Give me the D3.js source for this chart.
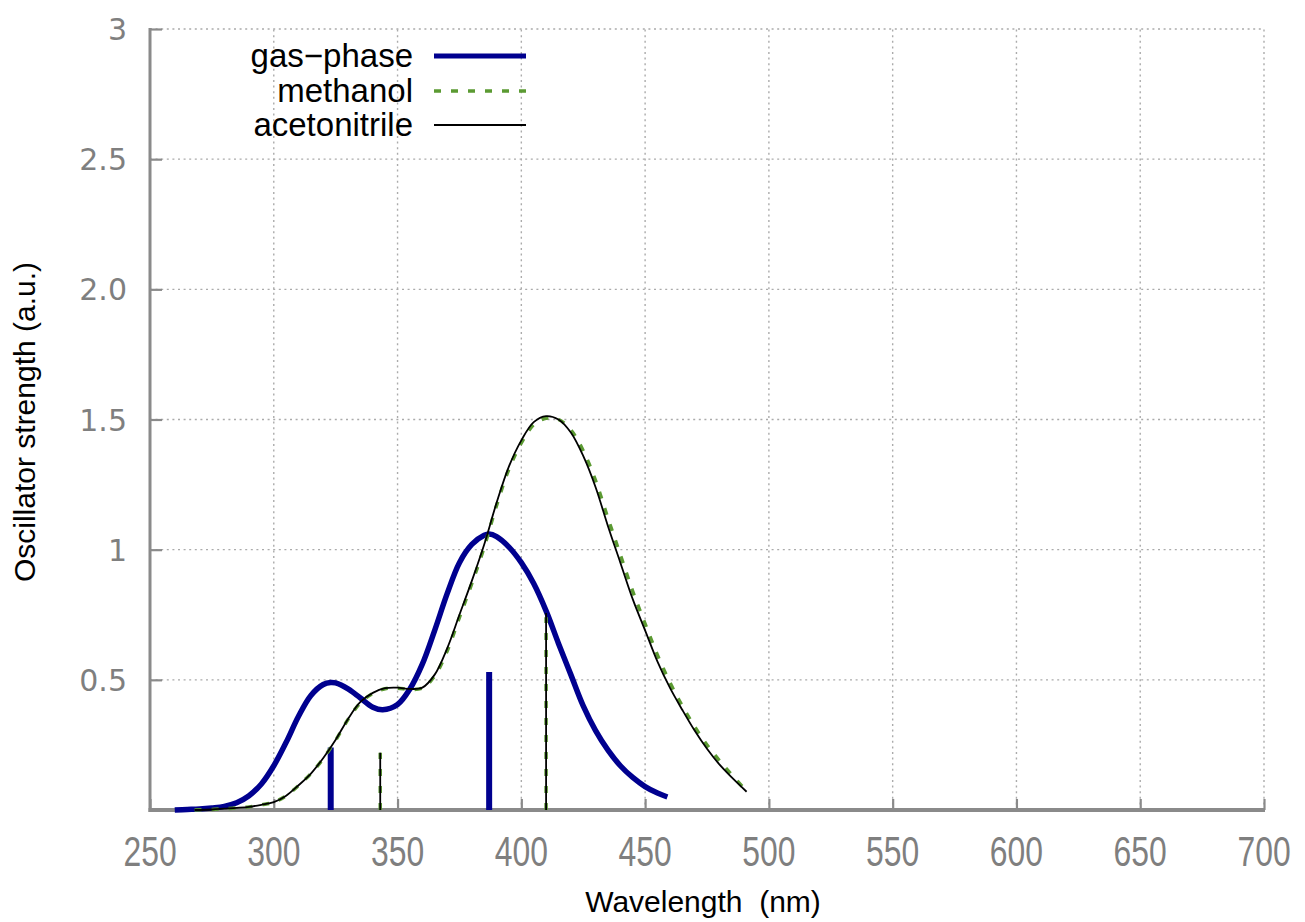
<!DOCTYPE html>
<html>
<head>
<meta charset="utf-8">
<script src="https://cdn.jsdelivr.net/npm/d3@7"></script>
<style>
  html, body { margin: 0; padding: 0; background: #fff; }
  svg { display: block; }
  text { white-space: pre; }
</style>
</head>
<body>
<svg id="chart" width="1305" height="922"></svg>
<script>
// ---------- data ----------
const xTicks = [250, 300, 350, 400, 450, 500, 550, 600, 650, 700];
const xTickLabels = ["250", "300", "350", "400", "450", "500", "550", "600", "650", "700"];
const yTicks = [0.5, 1, 1.5, 2, 2.5, 3];
const yTickLabels = ["0.5", "1", "1.5", "2.0", "2.5", "3"];

const seriesNames = ["gas\u2212phase", "methanol", "acetonitrile"];

// gas-phase broadened spectrum: wavelength (nm), oscillator strength
const gasWl = [260, 265, 270, 275, 280, 285, 290, 295, 300, 305, 310, 315, 320, 323, 325, 330, 335, 340, 344, 350, 355, 360, 365, 370, 375, 380, 385, 387, 390, 395, 400, 405, 410, 415, 420, 425, 430, 435, 440, 445, 450, 455, 459];
const gasF  = [0.0, 0.002, 0.004, 0.008, 0.014, 0.028, 0.055, 0.10, 0.17, 0.26, 0.36, 0.44, 0.482, 0.49, 0.488, 0.465, 0.43, 0.395, 0.385, 0.405, 0.465, 0.56, 0.69, 0.83, 0.95, 1.02, 1.055, 1.06, 1.05, 1.01, 0.95, 0.87, 0.765, 0.64, 0.52, 0.40, 0.305, 0.23, 0.17, 0.125, 0.09, 0.065, 0.05];

// methanol broadened spectrum
const methWl = [268, 275, 280, 285, 290, 295, 300, 305, 310, 315, 320, 325, 330, 335, 340, 345, 350, 355, 360, 365, 370, 375, 380, 385, 390, 395, 400, 405, 410, 415, 420, 425, 430, 435, 440, 445, 450, 455, 460, 465, 470, 475, 480, 485, 491];
const methF  = [0.0, 0.002, 0.005, 0.008, 0.012, 0.02, 0.03, 0.055, 0.094, 0.14, 0.198, 0.268, 0.348, 0.412, 0.448, 0.466, 0.468, 0.463, 0.468, 0.515, 0.61, 0.74, 0.87, 1.01, 1.17, 1.31, 1.41, 1.48, 1.505, 1.50, 1.46, 1.38, 1.265, 1.12, 0.98, 0.84, 0.715, 0.595, 0.49, 0.40, 0.32, 0.25, 0.19, 0.135, 0.072];

// acetonitrile broadened spectrum
const aceWl = [268, 275, 280, 285, 290, 295, 300, 305, 310, 315, 320, 325, 330, 335, 340, 345, 350, 355, 360, 365, 370, 375, 380, 385, 390, 395, 400, 405, 410, 415, 420, 425, 430, 435, 440, 445, 450, 455, 460, 465, 470, 475, 480, 485, 491];
const aceF  = [0.0, 0.002, 0.005, 0.008, 0.012, 0.02, 0.03, 0.055, 0.095, 0.14, 0.20, 0.27, 0.35, 0.415, 0.45, 0.468, 0.47, 0.465, 0.47, 0.52, 0.62, 0.75, 0.88, 1.02, 1.18, 1.32, 1.42, 1.49, 1.513, 1.50, 1.45, 1.36, 1.24, 1.09, 0.95, 0.81, 0.69, 0.57, 0.47, 0.385, 0.305, 0.235, 0.175, 0.125, 0.07];

// stick (transition) spectra
const gasStickWl = [323, 387];
const gasStickF  = [0.24, 0.53];
const methStickWl = [343, 410];
const methStickF  = [0.22, 0.74];
const aceStickWl = [343, 410];
const aceStickF  = [0.22, 0.757];

// ---------- layout ----------
const svg = d3.select("#chart");
const L = 150, R = 1264, T = 29, B = 810;
const x = d3.scaleLinear().domain([250, 700]).range([L, R]);
const y = d3.scaleLinear().domain([0, 3]).range([B, T]);

const gridColor = "#ababab";
const axisColor = "#8a8a8a";
const dots = "2,3.6";

// grid (dotted) including top and right border
const grid = svg.append("g");
xTicks.filter(v => v > 250).forEach(v => {
  grid.append("line").attr("x1", x(v)).attr("x2", x(v)).attr("y1", B).attr("y2", T)
    .attr("stroke", gridColor).attr("stroke-width", 1.4).attr("stroke-dasharray", dots);
});
yTicks.forEach(v => {
  grid.append("line").attr("x1", L).attr("x2", R).attr("y1", y(v)).attr("y2", y(v))
    .attr("stroke", gridColor).attr("stroke-width", 1.4).attr("stroke-dasharray", dots);
});

// axes via d3 axis generators (inward ticks)
const xAxis = svg.append("g").attr("transform", `translate(0,${B})`)
  .call(d3.axisTop(x).tickValues(xTicks).tickSize(11).tickFormat(""));
xAxis.select(".domain").remove();
xAxis.selectAll(".tick line").attr("stroke", axisColor).attr("stroke-width", 2.2);

const yAxis = svg.append("g").attr("transform", `translate(${L},0)`)
  .call(d3.axisRight(y).tickValues(yTicks).tickSize(12).tickFormat(""));
yAxis.select(".domain").remove();
yAxis.selectAll(".tick line").attr("stroke", axisColor).attr("stroke-width", 2.2);

// solid axis lines
svg.append("line").attr("x1", L).attr("x2", L).attr("y1", T - 1).attr("y2", B + 2)
  .attr("stroke", axisColor).attr("stroke-width", 3);
svg.append("line").attr("x1", L - 1.5).attr("x2", R + 1).attr("y1", B).attr("y2", B)
  .attr("stroke", axisColor).attr("stroke-width", 4);

// tick labels
const xl = svg.append("g");
xTicks.forEach((v, i) => {
  xl.append("text").attr("transform", `translate(${x(v)},${B + 56}) scale(0.76,1)`)
    .attr("text-anchor", "middle").attr("font-family", "Liberation Sans, Arial, sans-serif")
    .attr("font-size", 42).attr("fill", "#7f7f7f").text(xTickLabels[i]);
});
const yl = svg.append("g");
yTicks.forEach((v, i) => {
  yl.append("text").attr("x", 127).attr("y", y(v) + 11)
    .attr("text-anchor", "end").attr("font-family", "DejaVu Sans, sans-serif")
    .attr("font-size", 30).attr("fill", "#7f7f7f").text(yTickLabels[i]);
});

// axis titles
svg.append("text").attr("transform", `translate(703,912)`)
  .attr("text-anchor", "middle").attr("font-family", "Liberation Sans, Arial, sans-serif")
  .attr("font-size", 30).attr("fill", "#000").text("Wavelength  (nm)");
svg.append("text").attr("transform", `translate(35,422) rotate(-90)`)
  .attr("text-anchor", "middle").attr("font-family", "Liberation Sans, Arial, sans-serif")
  .attr("font-size", 30).attr("fill", "#000").text("Oscillator strength (a.u.)");

// ---------- series ----------
const styles = [
  { color: "#00008f", width: 5.5, dash: null },
  { color: "#5b9a32", width: 3.5, dash: "7,10" },
  { color: "#000000", width: 1.8, dash: null }
];
const curves = [
  { wl: gasWl, f: gasF, sw: gasStickWl, sf: gasStickF },
  { wl: methWl, f: methF, sw: methStickWl, sf: methStickF },
  { wl: aceWl, f: aceF, sw: aceStickWl, sf: aceStickF }
];

const line = d3.line().x(d => x(d[0])).y(d => y(d[1])).curve(d3.curveCatmullRom.alpha(0.5));

curves.forEach((c, i) => {
  const st = styles[i];
  const g = svg.append("g");
  const pts = c.wl.map((w, k) => [w, c.f[k]]);
  g.append("path").datum(pts).attr("d", line).attr("fill", "none")
    .attr("stroke", st.color).attr("stroke-width", st.width)
    .attr("stroke-dasharray", st.dash).attr("stroke-linejoin", "round");
  c.sw.forEach((w, k) => {
    g.append("line").attr("x1", x(w)).attr("x2", x(w)).attr("y1", y(0)).attr("y2", y(c.sf[k]))
      .attr("stroke", st.color).attr("stroke-width", i === 0 ? 6 : st.width)
      .attr("stroke-dasharray", st.dash);
  });
});

// ---------- legend ----------
const legY = [56, 91, 125];
const leg = svg.append("g");
seriesNames.forEach((name, i) => {
  const st = styles[i];
  leg.append("text").attr("x", 413).attr("y", legY[i] + 11)
    .attr("text-anchor", "end").attr("font-family", "Liberation Sans, Arial, sans-serif")
    .attr("font-size", 33).attr("fill", "#000").text(name);
  leg.append("line").attr("x1", 434).attr("x2", 526).attr("y1", legY[i]).attr("y2", legY[i])
    .attr("stroke", st.color).attr("stroke-width", i === 0 ? 5 : st.width)
    .attr("stroke-dasharray", st.dash);
});
</script>
</body>
</html>
